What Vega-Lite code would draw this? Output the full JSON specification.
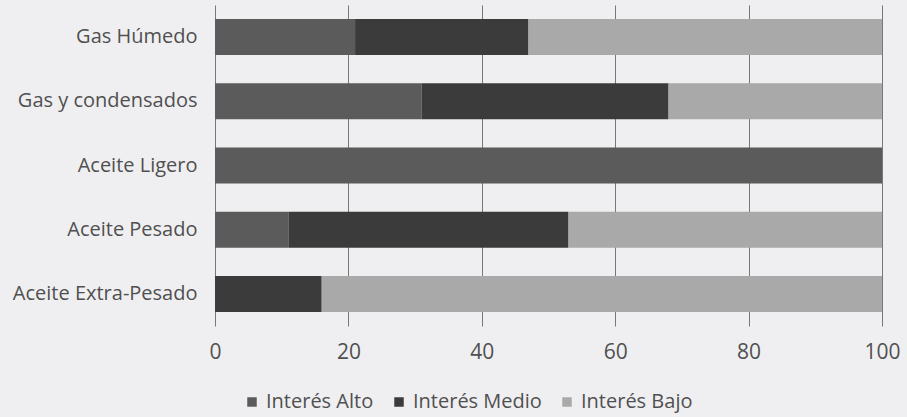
{
  "$schema": "https://vega.github.io/schema/vega-lite/v6.json",
  "width": 667,
  "height": 321,
  "autosize": {"type": "none"},
  "padding": {"left": 215, "top": 5, "right": 25, "bottom": 91},
  "background": "#efeff1",
  "config": {
    "view": {"stroke": null},
    "font": "Open Sans",
    "axis": {"labelFont": "Open Sans", "labelColor": "#505050"},
    "legend": {"labelFont": "Open Sans", "labelColor": "#505050"}
  },
  "data": {
    "values": [
      {"tipo": "Gas Húmedo", "interes": "Interés Alto", "orden": 1, "valor": 21},
      {"tipo": "Gas Húmedo", "interes": "Interés Medio", "orden": 2, "valor": 26},
      {"tipo": "Gas Húmedo", "interes": "Interés Bajo", "orden": 3, "valor": 53},
      {"tipo": "Gas y condensados", "interes": "Interés Alto", "orden": 1, "valor": 31},
      {"tipo": "Gas y condensados", "interes": "Interés Medio", "orden": 2, "valor": 37},
      {"tipo": "Gas y condensados", "interes": "Interés Bajo", "orden": 3, "valor": 32},
      {"tipo": "Aceite Ligero", "interes": "Interés Alto", "orden": 1, "valor": 100},
      {"tipo": "Aceite Ligero", "interes": "Interés Medio", "orden": 2, "valor": 0},
      {"tipo": "Aceite Ligero", "interes": "Interés Bajo", "orden": 3, "valor": 0},
      {"tipo": "Aceite Pesado", "interes": "Interés Alto", "orden": 1, "valor": 11},
      {"tipo": "Aceite Pesado", "interes": "Interés Medio", "orden": 2, "valor": 42},
      {"tipo": "Aceite Pesado", "interes": "Interés Bajo", "orden": 3, "valor": 47},
      {"tipo": "Aceite Extra-Pesado", "interes": "Interés Alto", "orden": 1, "valor": 0},
      {"tipo": "Aceite Extra-Pesado", "interes": "Interés Medio", "orden": 2, "valor": 16},
      {"tipo": "Aceite Extra-Pesado", "interes": "Interés Bajo", "orden": 3, "valor": 84}
    ]
  },
  "mark": {"type": "bar"},
  "encoding": {
    "y": {
      "field": "tipo",
      "type": "nominal",
      "sort": ["Gas Húmedo", "Gas y condensados", "Aceite Ligero", "Aceite Pesado", "Aceite Extra-Pesado"],
      "scale": {"paddingInner": 0.44, "paddingOuter": 0.22},
      "axis": {
        "title": null,
        "ticks": false,
        "domain": false,
        "labelFontSize": 20,
        "labelPadding": 18,
        "labelLimit": 300
      }
    },
    "x": {
      "field": "valor",
      "type": "quantitative",
      "stack": "zero",
      "scale": {"domain": [0, 100], "nice": false},
      "axis": {
        "title": null,
        "values": [0, 20, 40, 60, 80, 100],
        "ticks": false,
        "domain": false,
        "grid": true,
        "gridColor": "#777777",
        "gridOpacity": 1,
        "gridWidth": 1,
        "labelFontSize": 21,
        "labelPadding": 15,
        "labelFlush": false
      }
    },
    "color": {
      "field": "interes",
      "type": "nominal",
      "scale": {
        "domain": ["Interés Alto", "Interés Medio", "Interés Bajo"],
        "range": ["#5b5b5b", "#3b3b3b", "#a9a9a9"]
      },
      "legend": {
        "title": null,
        "orient": "none",
        "direction": "horizontal",
        "legendX": 27,
        "legendY": 387,
        "symbolType": "square",
        "symbolSize": 90,
        "symbolStrokeWidth": 0,
        "labelFontSize": 20,
        "labelOffset": 4,
        "columnPadding": 15
      }
    },
    "order": {"field": "orden", "type": "quantitative"}
  }
}
